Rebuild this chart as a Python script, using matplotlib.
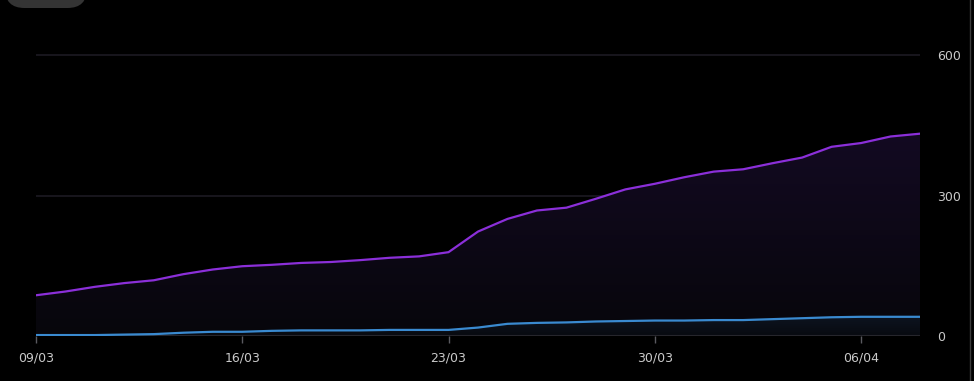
import numpy as np
import pandas as pd
import matplotlib
matplotlib.use('Agg')
import matplotlib.pyplot as plt
from matplotlib.patches import FancyBboxPatch
from matplotlib.colors import LinearSegmentedColormap

# datos (09/03 -> 08/04)
fechas = pd.date_range("2025-03-09", periods=31, freq="D")
serie_morada = [87, 95, 105, 113, 119, 132, 142, 149, 152, 156, 158, 162, 167, 170, 179,
                223, 250, 268, 274, 293, 313, 325, 339, 351, 356, 369, 381, 404, 412, 426, 432]
serie_azul = [2, 2, 2, 3, 4, 7, 9, 9, 11, 12, 12, 12, 13, 13, 13,
              18, 26, 28, 29, 31, 32, 33, 33, 34, 34, 36, 38, 40, 41, 41, 41]
ticks_y = [0, 300, 600]
fechas_ticks = ["2025-03-09", "2025-03-16", "2025-03-23", "2025-03-30", "2025-04-06"]

FONDO = "#000000"
TEXTO = "#c9c9c9"

fig = plt.figure(figsize=(9.74, 3.81), dpi=100, facecolor=FONDO)
W, H = 974, 381
y0, y1 = 0, 660
px_por_unidad = 140.5 / 300
top_px = 336 - y1 * px_por_unidad
ax = fig.add_axes([36 / W, 45 / H, (920 - 36) / W, (336 - top_px) / H])
ax.set_facecolor(FONDO)

x = np.arange(len(fechas))
x0 = pd.Timestamp(fechas[0])


def relleno_degradado(ax, xs, ys, c_arriba, c_abajo, z):
    cmap = LinearSegmentedColormap.from_list("g", [c_abajo, c_arriba])
    ymax = max(ys)
    img = ax.imshow(np.linspace(0, 1, 256).reshape(-1, 1), aspect="auto", cmap=cmap,
                    extent=[xs[0], xs[-1], 0, ymax], origin="lower", zorder=z)
    poly = ax.fill_between(xs, ys, 0, color="none", zorder=z)
    path = poly.get_paths()[0]
    img.set_clip_path(path, transform=ax.transData)


relleno_degradado(ax, x, serie_morada, "#130a22", "#07060b", 1)
relleno_degradado(ax, x, serie_azul, "#0d1420", "#080a10", 2)

for t in ticks_y[1:]:
    ax.axhline(t, color="#1c1a22", linewidth=1.2, zorder=0.5)
ax.axhline(0, color="#26262c", linewidth=1.5, zorder=3)

ax.plot(x, serie_morada, color="#8b2fd9", linewidth=1.6, zorder=4)
ax.plot(x, serie_azul, color="#3a8ad0", linewidth=1.6, zorder=4)

ax.set_xlim(0, len(fechas) - 1)
ax.set_ylim(y0, y1)

pos_ticks = [(pd.Timestamp(f) - x0).days for f in fechas_ticks]
ax.set_xticks(pos_ticks)
ax.set_xticklabels([pd.Timestamp(f).strftime("%d/%m") for f in fechas_ticks])
ax.tick_params(axis="x", colors="#5a5a60", length=5, width=1, labelcolor=TEXTO,
               labelsize=9, pad=6)

ax.yaxis.tick_right()
ax.set_yticks(ticks_y)
ax.set_yticklabels([str(t) for t in ticks_y])
ax.tick_params(axis="y", length=0, labelcolor=TEXTO, labelsize=9, pad=12)

for s in ax.spines.values():
    s.set_visible(False)

# boton parcial arriba a la izquierda y borde derecho
boton = FancyBboxPatch((5 / W, (H - 8) / H), 82 / W, 28 / H,
                       boxstyle="round,pad=0,rounding_size=0.02",
                       transform=fig.transFigure, facecolor="#343434",
                       edgecolor="none", mutation_aspect=W / H)
fig.patches.append(boton)
fig.add_artist(plt.Line2D([970 / W, 970 / W], [0, 1], transform=fig.transFigure,
                          color="#3a3a3a", linewidth=1))

fig.savefig("out.png", dpi=100, facecolor=FONDO)
